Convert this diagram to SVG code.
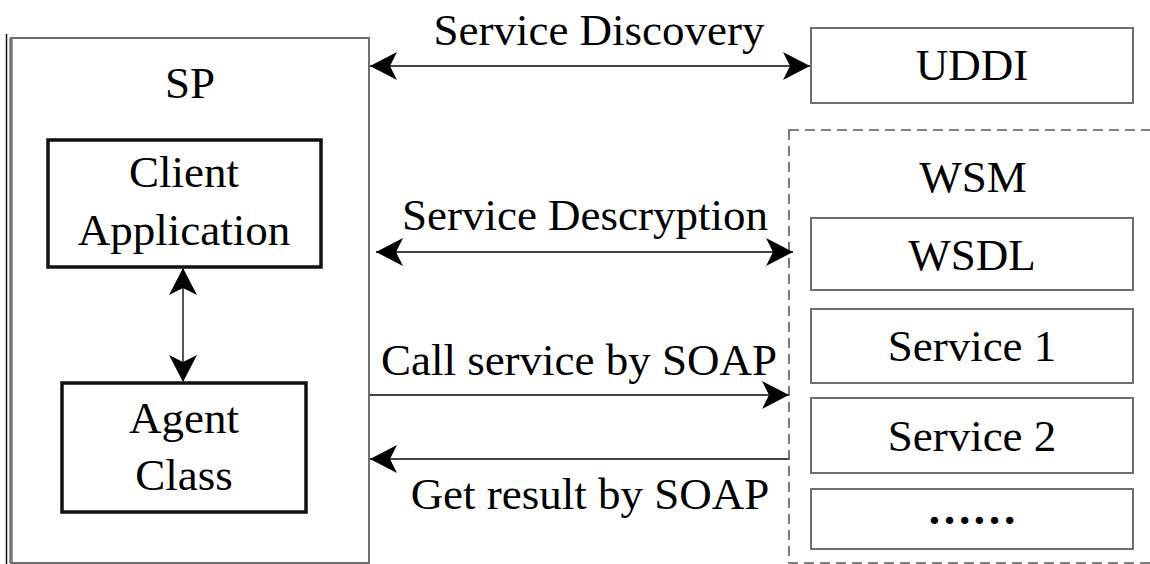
<svg xmlns="http://www.w3.org/2000/svg" width="1150" height="564" viewBox="0 0 1150 564">
<style>
text{font-family:"Liberation Serif","Times New Roman",serif;font-size:45px;fill:#000;text-anchor:middle}
.box{fill:#fff;stroke:#6e6e6e;stroke-width:2}
.inner{fill:#fff;stroke:#111;stroke-width:3.5}
.dash{fill:none;stroke:#555;stroke-width:1.6;stroke-dasharray:10,6}
.conn{fill:none;stroke:#444;stroke-width:1.8}
</style>
<defs>
<marker id="ah" viewBox="-1 -15 30 30" markerWidth="30" markerHeight="30" refX="27" refY="0" orient="auto-start-reverse" markerUnits="userSpaceOnUse">
<path d="M0,-14 L27,0 L0,14 L7,0 Z" fill="#000"/>
</marker>
</defs>
<rect width="1150" height="564" fill="#fff"/>
<g id="sp">
<line x1="6.5" y1="34" x2="6.5" y2="564" stroke="#111" stroke-width="1.5"/>
<rect class="box" x="11" y="38" width="358" height="525" stroke-width="2.2"/>
<line x1="11" y1="38" x2="11" y2="563" stroke="#777" stroke-width="3.5"/>
<text x="190" y="98">SP</text>
</g>
<g id="client">
<rect class="inner" x="48" y="140" width="273" height="127"/>
<text x="184" y="187">Client</text>
<text x="184" y="245">Application</text>
</g>
<g id="agent">
<rect class="inner" x="62" y="383" width="244" height="129"/>
<text x="184" y="433">Agent</text>
<text x="184" y="490">Class</text>
</g>
<g id="uddi">
<rect class="box" x="811" y="28" width="322" height="75"/>
<text x="972" y="80">UDDI</text>
</g>
<g id="wsm">
<rect class="dash" x="789" y="130" width="380" height="433"/>
<text x="973" y="192">WSM</text>
</g>
<g id="wsdl">
<rect class="box" x="811" y="218" width="322" height="72"/>
<text x="972" y="270">WSDL</text>
</g>
<g id="service1">
<rect class="box" x="811" y="309" width="322" height="74"/>
<text x="972" y="361">Service 1</text>
</g>
<g id="service2">
<rect class="box" x="811" y="398" width="322" height="75"/>
<text x="972" y="451">Service 2</text>
</g>
<g id="more">
<rect class="box" x="811" y="489" width="322" height="60"/>
<text x="972" y="524" font-weight="bold">……</text>
</g>
<g id="connectors">
<line class="conn" x1="370" y1="66" x2="810" y2="66" marker-start="url(#ah)" marker-end="url(#ah)"/>
<text x="599" y="45">Service Discovery</text>
<line class="conn" x1="376" y1="252" x2="793" y2="252" marker-start="url(#ah)" marker-end="url(#ah)"/>
<text x="585" y="230">Service Descryption</text>
<line class="conn" x1="370" y1="395" x2="789" y2="395" marker-end="url(#ah)"/>
<text x="579" y="375">Call service by SOAP</text>
<line class="conn" x1="789" y1="459" x2="370" y2="459" marker-end="url(#ah)"/>
<text x="590" y="509">Get result by SOAP</text>
<line class="conn" x1="183" y1="268" x2="183" y2="382" marker-start="url(#ah)" marker-end="url(#ah)"/>
</g>
</svg>
